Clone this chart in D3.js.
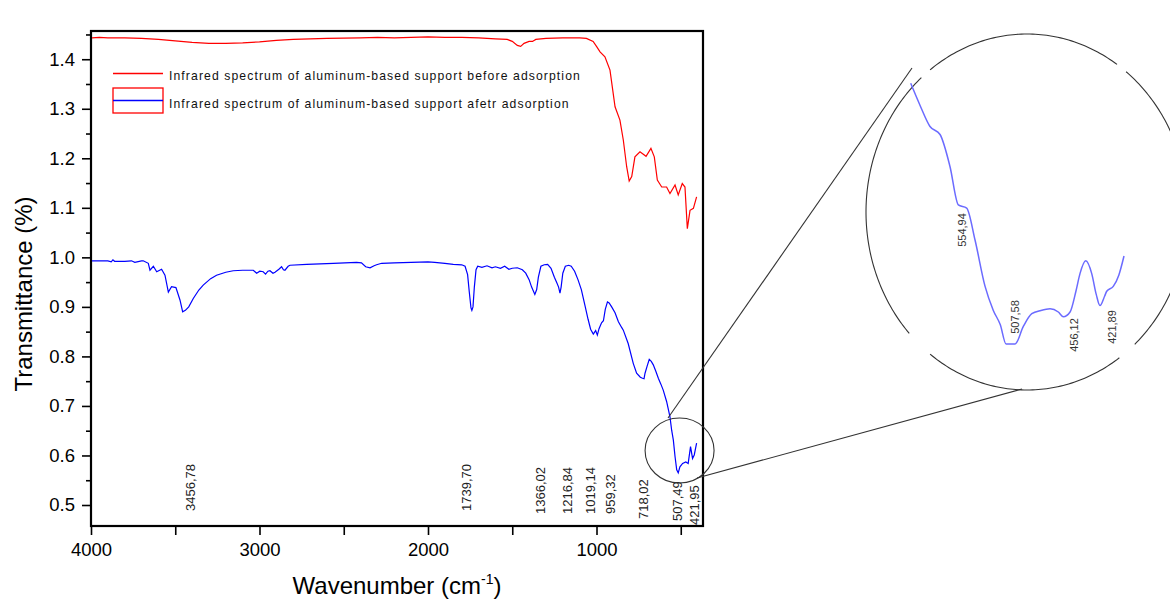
<!DOCTYPE html>
<html>
<head>
<meta charset="utf-8">
<script src="https://cdn.jsdelivr.net/npm/d3@7"></script>
<style>
  html, body { margin: 0; padding: 0; background: #fff; }
  svg { display: block; font-family: "Liberation Sans", Arial, sans-serif; }
</style>
</head>
<body>
<svg id="chart" width="1170" height="601"></svg>
<script>
// FTIR spectra (wavenumber in cm-1, transmittance)
const beforeWave = [4000, 3950, 3900, 3850, 3800, 3700, 3600, 3500, 3400, 3300, 3200, 3100, 3000, 2900, 2800, 2600, 2400, 2300, 2200, 2000, 1900, 1800, 1700, 1600, 1530, 1500, 1470, 1450, 1430, 1400, 1380, 1360, 1300, 1200, 1100, 1060, 1020, 1000, 979, 950, 920, 890, 861, 841, 821, 806, 791, 772, 742, 706, 677, 657, 639, 613, 584, 564, 534, 515, 491, 475, 461, 445, 425, 406];
const beforeT    = [1.443, 1.444, 1.443, 1.443, 1.443, 1.442, 1.440, 1.437, 1.434, 1.432, 1.432, 1.433, 1.435, 1.438, 1.440, 1.442, 1.443, 1.444, 1.443, 1.445, 1.444, 1.444, 1.443, 1.441, 1.440, 1.436, 1.428, 1.426, 1.432, 1.436, 1.436, 1.440, 1.442, 1.443, 1.443, 1.442, 1.436, 1.426, 1.415, 1.405, 1.378, 1.304, 1.277, 1.237, 1.183, 1.154, 1.163, 1.203, 1.213, 1.204, 1.220, 1.203, 1.156, 1.142, 1.142, 1.129, 1.146, 1.126, 1.149, 1.142, 1.058, 1.095, 1.099, 1.122];

const afterWave = [4000, 3900, 3880, 3870, 3860, 3800, 3760, 3740, 3700, 3690, 3660, 3650, 3630, 3610, 3581, 3561, 3541, 3522, 3496, 3472, 3456, 3440, 3420, 3393, 3360, 3334, 3290, 3255, 3200, 3156, 3100, 3037, 3017, 2998, 2978, 2964, 2950, 2938, 2920, 2908, 2885, 2869, 2858, 2849, 2830, 2819, 2720, 2562, 2424, 2395, 2370, 2344, 2320, 2305, 2275, 2200, 2100, 2000, 1960, 1900, 1850, 1800, 1780, 1765, 1755, 1745, 1739.7, 1733, 1725, 1715, 1705, 1680, 1650, 1620, 1600, 1570, 1545, 1520, 1500, 1470, 1440, 1420, 1400, 1385, 1366, 1355, 1345, 1330, 1310, 1290, 1270, 1250, 1235, 1225, 1216.8, 1210, 1200, 1185, 1165, 1150, 1130, 1110, 1090, 1070, 1050, 1035, 1019, 1005, 995, 985, 970, 959, 948, 935, 925, 910, 890, 870, 850, 841, 812, 782, 762, 740, 727, 718, 712, 700, 687, 675, 663, 648, 633, 618, 604, 584, 564, 554, 544, 534, 524, 515, 505, 489, 470, 456, 442, 430, 420, 406];
const afterT    = [0.993, 0.993, 0.991, 0.995, 0.992, 0.992, 0.993, 0.990, 0.993, 0.993, 0.988, 0.974, 0.982, 0.971, 0.976, 0.964, 0.930, 0.941, 0.939, 0.914, 0.890, 0.893, 0.900, 0.917, 0.934, 0.944, 0.957, 0.964, 0.970, 0.973, 0.974, 0.974, 0.968, 0.972, 0.971, 0.966, 0.972, 0.973, 0.968, 0.970, 0.976, 0.981, 0.975, 0.974, 0.982, 0.984, 0.986, 0.988, 0.990, 0.989, 0.981, 0.979, 0.983, 0.985, 0.988, 0.989, 0.990, 0.991, 0.990, 0.988, 0.986, 0.985, 0.982, 0.965, 0.930, 0.898, 0.893, 0.900, 0.940, 0.975, 0.982, 0.980, 0.983, 0.979, 0.981, 0.978, 0.982, 0.976, 0.978, 0.979, 0.975, 0.968, 0.955, 0.940, 0.925, 0.935, 0.960, 0.982, 0.985, 0.986, 0.978, 0.960, 0.948, 0.940, 0.928, 0.940, 0.968, 0.982, 0.984, 0.982, 0.972, 0.955, 0.935, 0.905, 0.875, 0.855, 0.845, 0.852, 0.843, 0.856, 0.868, 0.872, 0.895, 0.910, 0.908, 0.900, 0.888, 0.870, 0.858, 0.853, 0.826, 0.786, 0.766, 0.758, 0.756, 0.755, 0.766, 0.780, 0.794, 0.790, 0.783, 0.770, 0.756, 0.744, 0.732, 0.709, 0.678, 0.651, 0.631, 0.598, 0.571, 0.565, 0.577, 0.584, 0.587, 0.584, 0.618, 0.594, 0.601, 0.625];

// Enlarged view of the 600-410 cm-1 region of the "after" spectrum
const insetWave = [600.4, 592, 583.3, 574.4, 565.6, 558.2, 550.8, 543.4, 534.5, 527.2, 521, 515.9, 507.9, 500.6, 493.1, 485, 476.9, 469.6, 465.1, 459.2, 454, 450.4, 445.3, 440, 436, 432.7, 428.5, 426.7, 420.9, 416, 411.4];
const insetT    = [0.728, 0.714, 0.701, 0.696, 0.676, 0.652, 0.650, 0.630, 0.601, 0.586, 0.577, 0.565, 0.565, 0.576, 0.584, 0.586, 0.587, 0.585, 0.582, 0.585, 0.598, 0.609, 0.617, 0.609, 0.596, 0.589, 0.595, 0.598, 0.601, 0.608, 0.620];

// Band assignments written on the spectra
const peakLabels  = ["3456,78", "1739,70", "1366,02", "1216,84", "1019,14", "959,32", "718,02", "507,49", "421,95"];
const peakWaves   = [3456.78, 1739.70, 1366.02, 1216.84, 1019.14, 959.32, 718.02, 507.49, 421.95];
const insetLabels = ["554,94", "507,58", "456,12", "421,89"];
const insetWaves  = [554.94, 507.58, 456.12, 421.89];

// Axis ticks
const xMajorTicks = [4000, 3000, 2000, 1000];
const xMinorTicks = [3500, 2500, 1500, 500];
const yMajorTicks = [0.5, 0.6, 0.7, 0.8, 0.9, 1.0, 1.1, 1.2, 1.3, 1.4];
const yMinorTicks = [0.55, 0.65, 0.75, 0.85, 0.95, 1.05, 1.15, 1.25, 1.35, 1.45];

const legendLabels = [
  "Infrared spectrum of aluminum-based support before adsorption",
  "Infrared spectrum of aluminum-based support afetr adsorption"
];

// label layout: horizontal nudge (px) and baseline end (px) for the band labels
const peakLabelNudge  = [8, -5, 6, 8, -3, 7, -1, -2, 1];
const peakLabelBottom = [511, 511, 514, 514, 514, 514, 519, 521, 525];
const insetLabelY = [230, 317, 335, 327];

const svg = d3.select("#chart");
const frame = { left: 91, right: 703, top: 31, bottom: 526 };

const x = d3.scaleLinear().domain([4000, 368]).range([frame.left, frame.right]);
const y = d3.scaleLinear().domain([0.4576, 1.457]).range([frame.bottom, frame.top]);

// axes
svg.append("g").attr("transform", `translate(0,${frame.bottom})`)
  .call(d3.axisBottom(x).tickValues(xMajorTicks).tickSize(9).tickPadding(8).tickFormat(d3.format("d")));
svg.append("g").attr("transform", `translate(0,${frame.bottom})`)
  .call(d3.axisBottom(x).tickValues(xMinorTicks).tickSize(9).tickFormat(""));
svg.append("g").attr("transform", `translate(${frame.left},0)`)
  .call(d3.axisLeft(y).tickValues(yMajorTicks).tickSize(9).tickPadding(7).tickFormat(d3.format(".1f")));
svg.append("g").attr("transform", `translate(${frame.left},0)`)
  .call(d3.axisLeft(y).tickValues(yMinorTicks).tickSize(5).tickFormat(""));
svg.selectAll(".domain").remove();
svg.selectAll(".tick line").attr("stroke", "#000").attr("stroke-width", 1.6);
svg.selectAll(".tick text").attr("font-size", 18.5).attr("fill", "#000")
  .attr("font-family", '"Liberation Sans", Arial, sans-serif');

// frame
svg.append("rect")
  .attr("x", frame.left).attr("y", frame.top)
  .attr("width", frame.right - frame.left).attr("height", frame.bottom - frame.top)
  .attr("fill", "none").attr("stroke", "#000").attr("stroke-width", 2.2);

// axis titles
svg.append("text")
  .attr("transform", "translate(23,294) rotate(-90)")
  .attr("text-anchor", "middle").attr("dominant-baseline", "central")
  .attr("font-size", 24).text("Transmittance (%)");
const xt = svg.append("text")
  .attr("x", 397).attr("y", 594)
  .attr("text-anchor", "middle").attr("font-size", 24);
xt.append("tspan").text("Wavenumber (cm");
xt.append("tspan").attr("font-size", 14).attr("dy", -10).text("-1");
xt.append("tspan").attr("dy", 10).text(")");

// spectra
const line = d3.line().x(d => x(d[0])).y(d => y(d[1]));
svg.append("clipPath").attr("id", "plotClip").append("rect")
  .attr("x", frame.left + 1).attr("y", frame.top + 1)
  .attr("width", frame.right - frame.left - 2).attr("height", frame.bottom - frame.top - 2);

const plot = svg.append("g").attr("clip-path", "url(#plotClip)");
plot.append("path")
  .datum(d3.zip(beforeWave, beforeT))
  .attr("fill", "none").attr("stroke", "#ff0000").attr("stroke-width", 1.2)
  .attr("d", line);
plot.append("path")
  .datum(d3.zip(afterWave, afterT))
  .attr("fill", "none").attr("stroke", "#0000ff").attr("stroke-width", 1.2)
  .attr("d", line);

// band labels
svg.append("g").selectAll("text")
  .data(peakLabels.map((t, i) => ({ t, w: peakWaves[i], dx: peakLabelNudge[i], yb: peakLabelBottom[i] })))
  .join("text")
  .attr("transform", d => `translate(${x(d.w) + d.dx + 4.5},${d.yb}) rotate(-90)`)
  .attr("font-size", 13).attr("fill", "#222")
  .text(d => d.t);

// legend
const lg = svg.append("g");
lg.append("line").attr("x1", 113).attr("x2", 163).attr("y1", 73.5).attr("y2", 73.5)
  .style("stroke", "red").style("stroke-width", 1.3);
lg.append("rect").attr("x", 113).attr("y", 88).attr("width", 50).attr("height", 25)
  .attr("fill", "none").style("stroke", "red").style("stroke-width", 1.3);
lg.append("line").attr("x1", 113).attr("x2", 163).attr("y1", 100.5).attr("y2", 100.5)
  .style("stroke", "blue").style("stroke-width", 1.3);
lg.selectAll("text.leg").data(legendLabels).join("text")
  .attr("class", "leg")
  .attr("x", 169).attr("y", (d, i) => 79.5 + i * 28.5)
  .attr("font-size", 12.2).attr("letter-spacing", 1.1).attr("fill", "#111")
  .text(d => d);

// magnifier: small circle around the 400-600 region
const zoomCx = x(507), zoomCy = y(0.61);
svg.append("ellipse").attr("cx", zoomCx).attr("cy", zoomCy).attr("rx", 34.5).attr("ry", 32.5)
  .attr("fill", "none").attr("stroke", "#333").attr("stroke-width", 1.1);

// large callout ellipse drawn in four arcs
const big = { cx: 1027, cy: 212, rx: 161, ry: 178 };
const arcs = [[-127, -56], [-52, 48], [55, 127], [137, 229]];
const arcLine = d3.line();
arcs.forEach(([a0, a1]) => {
  const pts = d3.range(a0, a1 + 0.5, 1).map(a => {
    const t = a * Math.PI / 180;
    return [big.cx + big.rx * Math.cos(t), big.cy + big.ry * Math.sin(t)];
  });
  svg.append("path").attr("d", arcLine(pts))
    .attr("fill", "none").attr("stroke", "#333").attr("stroke-width", 1.1);
});

// connector lines
svg.append("line").attr("x1", 668).attr("y1", 418).attr("x2", 912).attr("y2", 68)
  .attr("stroke", "#333").attr("stroke-width", 1.1);
svg.append("line").attr("x1", 697).attr("y1", 478).attr("x2", 1022).attr("y2", 389)
  .attr("stroke", "#333").attr("stroke-width", 1.1);

// enlarged spectrum
const ix = d3.scaleLinear().domain([600.4, 411.4]).range([910.7, 1124]);
const iy = d3.scaleLinear().domain([0.565, 0.728]).range([344, 83.3]);
svg.append("path")
  .datum(d3.zip(insetWave, insetT))
  .attr("fill", "none").attr("stroke", "#6b6bff").attr("stroke-width", 1.5)
  .attr("d", d3.line().curve(d3.curveMonotoneX).x(d => ix(d[0])).y(d => iy(d[1])));

svg.append("g").selectAll("text")
  .data(d3.zip(insetLabels, insetWaves, insetLabelY))
  .join("text")
  .attr("transform", d => `translate(${ix(d[1]) + 4},${d[2]}) rotate(-90)`)
  .attr("text-anchor", "middle")
  .attr("font-size", 11).attr("fill", "#333")
  .text(d => d[0]);
</script>
</body>
</html>
